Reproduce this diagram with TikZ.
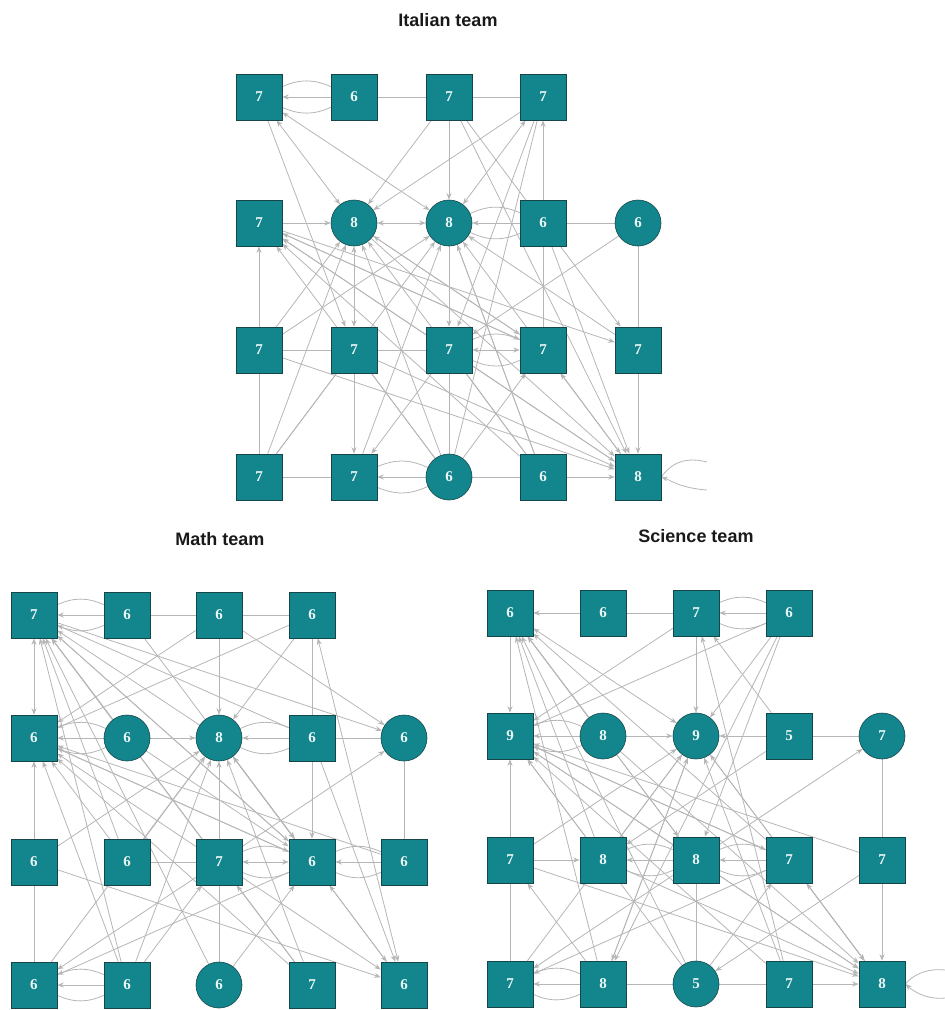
\documentclass[tikz,border=0pt]{standalone}
\usepackage{fontspec}
\setmainfont{Liberation Serif}
\newfontfamily\ttlfam{Liberation Sans}
\usetikzlibrary{arrows.meta,backgrounds}
\definecolor{tealfill}{RGB}{18,134,140}
\definecolor{tealborder}{RGB}{20,70,74}
\definecolor{nodetext}{RGB}{236,246,246}
\definecolor{edgegray}{RGB}{182,182,182}
\tikzset{
  sq/.style={draw=tealborder, fill=tealfill, line width=0.6pt, minimum size=46pt, inner sep=0pt, font=\fontsize{15}{15}\selectfont\bfseries, text=nodetext},
  ci/.style={sq, circle},
  e/.style={draw=edgegray, line width=0.8pt},
  ea/.style={e, -{Stealth[length=6.5pt,width=5pt]}},
  eb/.style={e, {Stealth[length=6.5pt,width=5pt]}-{Stealth[length=6.5pt,width=5pt]}},
  ttl/.style={font=\ttlfam\fontsize{18}{18}\selectfont\bfseries, text=black!90}
}
\newcommand{\mlt}[2]{\draw[ea] (#1) -- (#2); \draw[e] (#1) to[bend left=24] (#2); \draw[e] (#1) to[bend right=24] (#2);}
\newcommand{\mltb}[2]{\draw[eb] (#1) -- (#2); \draw[e] (#1) to[bend left=24] (#2); \draw[e] (#1) to[bend right=24] (#2);}
\begin{document}
\begin{tikzpicture}[x=1pt,y=-1pt]
\useasboundingbox (0,0) rectangle (945,1010);
% titles
\node[ttl] (tI) at (448,20) {Italian team};
\node[ttl] (tM) at (220,539) {Math team};
\node[ttl] (tS) at (696,536) {Science team};
% ---------------- Italian team
\node[sq] (I11) at (259,97) {7};
\node[sq] (I12) at (354,97) {6};
\node[sq] (I13) at (449,97) {7};
\node[sq] (I14) at (543,97) {7};
\node[sq] (I21) at (259,223) {7};
\node[ci] (I22) at (354,223) {8};
\node[ci] (I23) at (449,223) {8};
\node[sq] (I24) at (543,223) {6};
\node[ci] (I25) at (638,223) {6};
\node[sq] (I31) at (259,350) {7};
\node[sq] (I32) at (354,350) {7};
\node[sq] (I33) at (449,350) {7};
\node[sq] (I34) at (543,350) {7};
\node[sq] (I35) at (638,350) {7};
\node[sq] (I41) at (259,477) {7};
\node[sq] (I42) at (354,477) {7};
\node[ci] (I43) at (449,477) {6};
\node[sq] (I44) at (543,477) {6};
\node[sq] (I45) at (638,477) {8};
\coordinate (IL1) at (707,462);
\coordinate (IL2) at (707,490);
% ---------------- Math team
\node[sq] (M11) at (34,615) {7};
\node[sq] (M12) at (127,615) {6};
\node[sq] (M13) at (219,615) {6};
\node[sq] (M14) at (312,615) {6};
\node[sq] (M21) at (34,738) {6};
\node[ci] (M22) at (127,738) {6};
\node[ci] (M23) at (219,738) {8};
\node[sq] (M24) at (312,738) {6};
\node[ci] (M25) at (404,738) {6};
\node[sq] (M31) at (34,862) {6};
\node[sq] (M32) at (127,862) {6};
\node[sq] (M33) at (219,862) {7};
\node[sq] (M34) at (312,862) {6};
\node[sq] (M35) at (404,862) {6};
\node[sq] (M41) at (34,985) {6};
\node[sq] (M42) at (127,985) {6};
\node[ci] (M43) at (219,985) {6};
\node[sq] (M44) at (312,985) {7};
\node[sq] (M45) at (404,985) {6};
% ---------------- Science team
\node[sq] (S11) at (510,613) {6};
\node[sq] (S12) at (603,613) {6};
\node[sq] (S13) at (696,613) {7};
\node[sq] (S14) at (789,613) {6};
\node[sq] (S21) at (510,736) {9};
\node[ci] (S22) at (603,736) {8};
\node[ci] (S23) at (696,736) {9};
\node[sq] (S24) at (789,736) {5};
\node[ci] (S25) at (882,736) {7};
\node[sq] (S31) at (510,860) {7};
\node[sq] (S32) at (603,860) {8};
\node[sq] (S33) at (696,860) {8};
\node[sq] (S34) at (789,860) {7};
\node[sq] (S35) at (882,860) {7};
\node[sq] (S41) at (510,984) {7};
\node[sq] (S42) at (603,984) {8};
\node[ci] (S43) at (696,984) {5};
\node[sq] (S44) at (789,984) {7};
\node[sq] (S45) at (882,984) {8};
\coordinate (SL1) at (945,970);
\coordinate (SL2) at (945,998);
\begin{scope}[on background layer]
% ===== Italian edges
\mlt{I12}{I11}
\draw[e] (I12)--(I13); \draw[e] (I13)--(I14);
\draw[ea] (I13)--(I23); \draw[ea] (I13)--(I22); \draw[ea] (I14)--(I22);
\draw[ea] (I24)--(I14); \draw[ea] (I21)--(I22);
\draw[eb] (I11)--(I22); \draw[eb] (I11)--(I23); \draw[eb] (I14)--(I23); \draw[eb] (I22)--(I23);
\mlt{I24}{I23}
\draw[e] (I24)--(I25); \draw[e] (I13)--(I24); \draw[e] (I14)--(I43);
\draw[e] (I25)--(I35); \draw[e] (I24)--(I34);
\draw[ea] (I13)--(I45); \draw[ea] (I24)--(I45); \draw[ea] (I24)--(I35);
\draw[ea] (I25)--(I33); \draw[ea] (I35)--(I23); \draw[ea] (I21)--(I35);
\draw[ea] (I31)--(I21); \draw[e] (I31)--(I41);
\draw[e] (I31)--(I32); \draw[e] (I32)--(I33);
\mltb{I33}{I34}
\draw[eb] (I22)--(I32); \draw[ea] (I32)--(I42); \draw[ea] (I23)--(I33); \draw[e] (I33)--(I43);
\draw[e] (I41)--(I42); \mlt{I43}{I42}; \draw[e] (I43)--(I44); \draw[ea] (I44)--(I45);
\draw[ea] (I35)--(I45); \draw[eb] (I34)--(I45);
\draw[e] (I32)--(I41); \draw[e] (I32)--(I43); \draw[ea] (I33)--(I42);
\draw[ea] (I31)--(I22); \draw[ea] (I41)--(I22); \draw[ea] (I43)--(I22); \draw[ea] (I34)--(I22); \draw[ea] (I44)--(I22);
\draw[ea] (I31)--(I23); \draw[ea] (I42)--(I23); \draw[ea] (I41)--(I23); \draw[ea] (I44)--(I23); \draw[ea] (I45)--(I23);
\draw[ea] (I33)--(I21); \draw[ea] (I34)--(I21); \draw[ea] (I44)--(I21); \draw[ea] (I45)--(I21); \draw[ea] (I43)--(I21);
\draw[ea] (I31)--(I45); \draw[ea] (I32)--(I45); \draw[ea] (I22)--(I45); \draw[ea] (I33)--(I45);
\draw[ea] (I11)--(I32); \draw[ea] (I22)--(I34); \draw[ea] (I21)--(I34); \draw[ea] (I43)--(I34);
\draw[e] (I23)--(I44); \draw[e] (I33)--(I44); \draw[ea] (I14)--(I33);
\draw[e] (IL1) .. controls (680,455) and (668,468) .. (I45.east);
\draw[ea] (IL2) .. controls (680,488) and (670,480) .. (I45.east);
% ===== Math edges
\mlt{M12}{M11}
\draw[e] (M12)--(M13); \draw[e] (M13)--(M14); \draw[e] (M14)--(M24); \draw[e] (M24)--(M25);
\draw[ea] (M13)--(M23); \draw[ea] (M13)--(M21); \draw[ea] (M14)--(M21); \draw[ea] (M14)--(M23);
\draw[ea] (M13)--(M25); \draw[ea] (M11)--(M25); \draw[ea] (M22)--(M23);
\mlt{M24}{M23} \mlt{M22}{M21}
\draw[eb] (M11)--(M21); \draw[eb] (M14)--(M45);
\draw[ea] (M31)--(M21); \draw[e] (M31)--(M41);
\draw[e] (M32)--(M33); \mltb{M33}{M34} \mlt{M35}{M34} \mlt{M42}{M41}
\draw[ea] (M24)--(M34); \draw[ea] (M33)--(M25); \draw[ea] (M31)--(M45);
\draw[e] (M43)--(M33); \draw[ea] (M43)--(M34); \draw[ea] (M44)--(M33); \draw[ea] (M33)--(M45);
\draw[eb] (M34)--(M45); \draw[ea] (M34)--(M41); \draw[ea] (M33)--(M41); \draw[ea] (M42)--(M33);
\draw[ea] (M22)--(M11); \draw[ea] (M23)--(M11); \draw[ea] (M32)--(M11); \draw[ea] (M33)--(M11);
\draw[ea] (M34)--(M11); \draw[ea] (M24)--(M11); \draw[ea] (M42)--(M11); \draw[ea] (M43)--(M11); \draw[ea] (M44)--(M11);
\draw[ea] (M32)--(M21); \draw[ea] (M33)--(M21); \draw[ea] (M34)--(M21); \draw[ea] (M35)--(M21); \draw[ea] (M42)--(M21); \draw[ea] (M44)--(M21);
\draw[ea] (M41)--(M23); \draw[ea] (M42)--(M23); \draw[ea] (M31)--(M23); \draw[ea] (M33)--(M23);
\draw[ea] (M34)--(M23); \draw[ea] (M44)--(M23); \draw[ea] (M45)--(M23); \draw[ea] (M32)--(M23);
\draw[ea] (M11)--(M34); \draw[ea] (M21)--(M34); \draw[ea] (M22)--(M34); \draw[ea] (M23)--(M34); \draw[ea] (M12)--(M34);
\draw[e] (M35)--(M25); \draw[ea] (M24)--(M45);
% ===== Science edges
\draw[ea] (S12)--(S11); \draw[e] (S12)--(S13); \draw[e] (S24)--(S25); \draw[e] (S25)--(S35);
\mlt{S14}{S13} \mlt{S22}{S21} \mlt{S33}{S32} \mlt{S34}{S33} \mlt{S42}{S41}
\draw[e] (S41)--(S31); \draw[e] (S42)--(S43); \draw[e] (S43)--(S44); \draw[e] (S43)--(S33);
\draw[ea] (S11)--(S21); \draw[ea] (S13)--(S23); \draw[ea] (S13)--(S21); \draw[ea] (S14)--(S21);
\draw[ea] (S14)--(S23); \draw[ea] (S24)--(S23); \draw[ea] (S24)--(S13); \draw[ea] (S22)--(S23);
\draw[ea] (S35)--(S45); \draw[ea] (S31)--(S21); \draw[ea] (S31)--(S32); \draw[ea] (S44)--(S45);
\draw[ea] (S42)--(S31); \draw[ea] (S33)--(S25); \draw[ea] (S35)--(S43);
\draw[eb] (S11)--(S23); \draw[eb] (S34)--(S45);
\draw[ea] (S14)--(S42); \draw[ea] (S14)--(S33);
\draw[ea] (S22)--(S11); \draw[ea] (S32)--(S11); \draw[ea] (S33)--(S11); \draw[ea] (S34)--(S11); \draw[ea] (S43)--(S11); \draw[ea] (S42)--(S11);
\draw[ea] (S32)--(S21); \draw[ea] (S33)--(S21); \draw[ea] (S34)--(S21); \draw[ea] (S35)--(S21); \draw[ea] (S43)--(S21); \draw[ea] (S44)--(S21);
\draw[ea] (S32)--(S23); \draw[ea] (S41)--(S23); \draw[ea] (S42)--(S23); \draw[ea] (S44)--(S23); \draw[ea] (S45)--(S23); \draw[ea] (S31)--(S23);
\draw[ea] (S31)--(S45); \draw[ea] (S32)--(S45); \draw[ea] (S33)--(S45); \draw[ea] (S22)--(S45); \draw[ea] (S21)--(S45); \draw[ea] (S23)--(S45);
\draw[ea] (S23)--(S42); \draw[ea] (S33)--(S41); \draw[ea] (S34)--(S41);
\draw[ea] (S44)--(S13); \draw[ea] (S43)--(S34); \draw[ea] (S24)--(S32); \draw[ea] (S11)--(S33); \draw[ea] (S21)--(S34);
\draw[e] (SL1) .. controls (925,968) and (912,976) .. (S45.east);
\draw[ea] (SL2) .. controls (925,1000) and (912,990) .. (S45.east);
\end{scope}
\end{tikzpicture}
\end{document}
